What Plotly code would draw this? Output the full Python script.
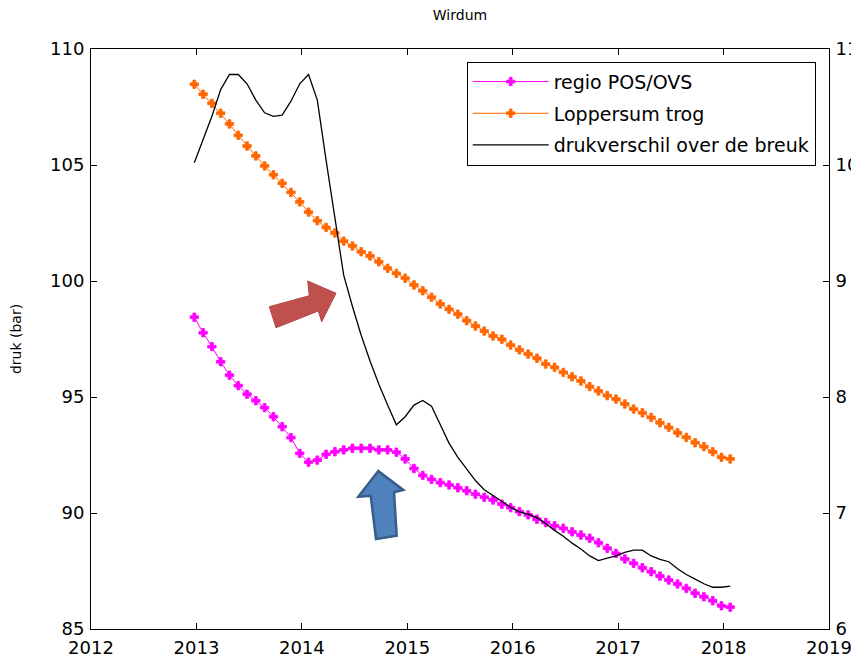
import plotly.graph_objects as go

# ---- data ----
month_index = list(range(62))           # monthly samples, Jan 2013 .. Feb 2018
start_year = 2012.98
years = [start_year + k / 12 for k in month_index]

regio_pos_ovs = [98.44, 97.77, 97.17, 96.52, 95.94, 95.49, 95.12, 94.84, 94.54, 94.15,
                 93.72, 93.25, 92.57, 92.19, 92.28, 92.53, 92.64, 92.72, 92.79, 92.79,
                 92.79, 92.72, 92.72, 92.62, 92.33, 91.92, 91.62, 91.45, 91.31, 91.21,
                 91.09, 90.96, 90.81, 90.68, 90.56, 90.38, 90.23, 90.06, 89.92, 89.73,
                 89.59, 89.45, 89.34, 89.19, 89.05, 88.91, 88.72, 88.48, 88.26, 88.02,
                 87.83, 87.64, 87.47, 87.28, 87.11, 86.94, 86.75, 86.54, 86.39, 86.22,
                 86.00, 85.94]

loppersum_trog = [108.48, 108.05, 107.66, 107.23, 106.77, 106.28, 105.82, 105.39, 104.96, 104.58,
                  104.21, 103.82, 103.41, 102.97, 102.60, 102.31, 102.07, 101.72, 101.51, 101.26,
                  101.08, 100.83, 100.55, 100.33, 100.12, 99.83, 99.58, 99.30, 99.01, 98.78,
                  98.57, 98.29, 98.06, 97.84, 97.63, 97.49, 97.24, 97.03, 96.85, 96.67,
                  96.42, 96.28, 96.06, 95.87, 95.69, 95.45, 95.26, 95.06, 94.91, 94.70,
                  94.48, 94.32, 94.12, 93.89, 93.69, 93.46, 93.26, 93.03, 92.86, 92.64,
                  92.40, 92.33]

drukverschil = [10.02, 10.22, 10.42, 10.65, 10.78, 10.78, 10.70, 10.56, 10.45, 10.42,
                10.43, 10.55, 10.70, 10.78, 10.56, 10.04, 9.55, 9.05, 8.78, 8.53,
                8.31, 8.11, 7.93, 7.76, 7.83, 7.93, 7.97, 7.92, 7.76, 7.60,
                7.48, 7.38, 7.28, 7.20, 7.15, 7.10, 7.05, 7.01, 6.99, 6.96,
                6.91, 6.85, 6.80, 6.74, 6.69, 6.63, 6.59, 6.61, 6.63, 6.66,
                6.68, 6.68, 6.63, 6.60, 6.58, 6.52, 6.47, 6.43, 6.39, 6.36,
                6.36, 6.37]

x_ticks = [2012, 2013, 2014, 2015, 2016, 2017, 2018, 2019]
left_ticks = [85, 90, 95, 100, 105, 110]
right_ticks = [6, 7, 8, 9, 10, 11]

names = ["regio POS/OVS", "Loppersum trog", "drukverschil over de breuk"]
title_text = "Wirdum"
ylabel = "druk (bar)"

# ---- figure (page body has an 8px margin, so the figure starts at 8,8) ----
OFF = 8
W, H = 859 - OFF, 661 - OFF
L, R, T, B = 91 - OFF, 30, 49 - OFF, 32
FONT = "DejaVu Sans"

fig = go.Figure()
fig.add_trace(go.Scatter(x=years, y=regio_pos_ovs, name=names[0], mode="lines+markers",
                         line=dict(color="#FF00FF", width=1),
                         marker=dict(symbol="cross", size=7, color="#FF00FF",
                                     line=dict(width=0.8, color="#FF00FF")),
                         legendgroup="a"))
fig.add_trace(go.Scatter(x=years, y=loppersum_trog, name=names[1], mode="lines+markers",
                         line=dict(color="#FF6600", width=1),
                         marker=dict(symbol="cross", size=7, color="#FF6600",
                                     line=dict(width=0.8, color="#FF6600")),
                         legendgroup="b"))
fig.add_trace(go.Scatter(x=years, y=drukverschil, name=names[2], mode="lines",
                         line=dict(color="#000000", width=1.3), yaxis="y2",
                         legendgroup="c"))

axis_common = dict(showline=True, linecolor="black", linewidth=1, ticks="inside",
                   ticklen=6, tickcolor="black", showgrid=False, zeroline=False,
                   automargin=False,
                   tickfont=dict(family=FONT, size=18, color="black"))

def to_paper(px, py):
    """screen pixel -> paper coordinates"""
    return (px - OFF - L) / (W - L - R), (H - B - (py - OFF)) / (H - T - B)

leg_x, leg_y = to_paper(466.7, 61.7)

fig.update_layout(
    width=W, height=H,
    margin=dict(l=L, r=R, t=T, b=B, pad=0, autoexpand=False),
    paper_bgcolor="white", plot_bgcolor="white",
    title=dict(text=title_text, x=0.5, xref="paper", xanchor="center",
               y=1 - 2 / H, yref="container", yanchor="top", pad=dict(t=0, b=0),
               font=dict(family=FONT, size=14, color="black")),
    xaxis=dict(axis_common, range=[2012, 2019], tickvals=x_ticks,
               ticktext=[str(v) for v in x_ticks], mirror="ticks", ticklabelstandoff=2),
    yaxis=dict(axis_common, range=[85, 110], tickvals=left_ticks, ticklabelstandoff=2,
               title=dict(text=ylabel, font=dict(family=FONT, size=14, color="black"),
                          standoff=30)),
    yaxis2=dict(axis_common, range=[6, 11], tickvals=right_ticks, overlaying="y",
                side="right", ticklabelstandoff=2),
    showlegend=True,
    legend=dict(x=leg_x, y=leg_y,
                xanchor="left", yanchor="top", bgcolor="white",
                bordercolor="black", borderwidth=1, itemwidth=76,
                tracegroupgap=4,
                font=dict(family=FONT, size=19, color="black")),
)

# ---- decorative arrows ----
def path_from(points):
    pts = [to_paper(px, py) for px, py in points]
    return "M " + " L ".join(f"{x:.4f},{y:.4f}" for x, y in pts) + " Z"

red_arrow = [(269.3, 306.7), (309.3, 295.7), (307.7, 281), (336, 293.3),
             (321.7, 321.7), (318.3, 311), (276, 327.7)]
blue_arrow = [(378.3, 471), (403.3, 490), (394, 492.3), (396.7, 535.7),
              (376, 539), (370.7, 495.7), (358.3, 496.7)]

fig.add_shape(type="path", xref="paper", yref="paper", path=path_from(red_arrow),
              fillcolor="#C0504D", line=dict(color="#B04744", width=1), layer="above")
fig.add_shape(type="path", xref="paper", yref="paper", path=path_from(blue_arrow),
              fillcolor="#4F81BD", line=dict(color="#385D8A", width=2.5), layer="above")

fig.write_html("out.html")
